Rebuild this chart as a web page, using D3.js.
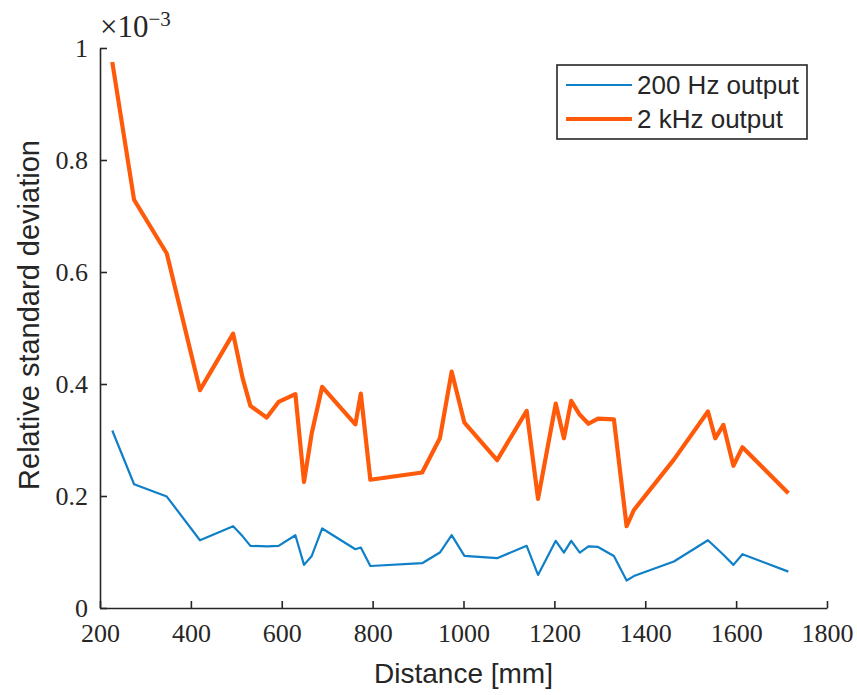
<!DOCTYPE html>
<html>
<head>
<meta charset="utf-8">
<script src="https://cdn.jsdelivr.net/npm/d3@7"></script>
<style>
  html, body { margin: 0; padding: 0; background: #fff; }
  svg { display: block; }
</style>
</head>
<body>
<svg id="chart" width="857" height="695"></svg>
<script>
// Distance from the source in mm
const distance = [227, 275, 347, 420, 493, 514, 531, 567, 593, 630, 649, 666, 689, 762, 774, 795, 909, 948, 974, 1002, 1074, 1139, 1164, 1203, 1221, 1237, 1256, 1275, 1296, 1331, 1359, 1375, 1463, 1538, 1554, 1572, 1594, 1614, 1715];

// Relative standard deviation, in units of 1e-3
const rsd200Hz = [0.317, 0.221, 0.199, 0.121, 0.146, 0.128, 0.111, 0.110, 0.111, 0.130, 0.077, 0.093, 0.142, 0.105, 0.108, 0.075, 0.080, 0.099, 0.130, 0.093, 0.089, 0.111, 0.059, 0.120, 0.099, 0.120, 0.099, 0.110, 0.109, 0.093, 0.049, 0.057, 0.083, 0.121, 0.109, 0.095, 0.077, 0.096, 0.065];
const rsd2kHz  = [0.975, 0.729, 0.633, 0.389, 0.490, 0.410, 0.361, 0.340, 0.368, 0.382, 0.225, 0.312, 0.395, 0.328, 0.383, 0.229, 0.242, 0.303, 0.422, 0.331, 0.264, 0.352, 0.195, 0.365, 0.303, 0.370, 0.345, 0.329, 0.338, 0.337, 0.146, 0.175, 0.265, 0.351, 0.303, 0.327, 0.254, 0.287, 0.205];

const seriesNames = ["200 Hz output", "2 kHz output"];
const xTicks = [200, 400, 600, 800, 1000, 1200, 1400, 1600, 1800];
const yTicks = [0, 0.2, 0.4, 0.6, 0.8, 1];

const svg = d3.select("#chart");
const axisColor = "#262626";
const blue = "#0f7fc8";
const orange = "#ff5a0a";
const serif = "'Liberation Serif', 'DejaVu Serif', serif";
const sans = "'Liberation Sans', Arial, sans-serif";

const x = d3.scaleLinear().domain([200, 1800]).range([100, 827]);
const y = d3.scaleLinear().domain([0, 1]).range([608, 48]);

// Axes: ticks point into the plot area
const xAxis = svg.append("g")
  .attr("transform", `translate(0,${y(0)})`)
  .call(d3.axisBottom(x).tickValues(xTicks).tickSizeInner(-7).tickSizeOuter(0).tickPadding(16).tickFormat(d3.format("d")));
const yAxis = svg.append("g")
  .attr("transform", `translate(${x(200)},0)`)
  .call(d3.axisLeft(y).tickValues(yTicks).tickSizeInner(-7).tickSizeOuter(0).tickPadding(12).tickFormat(d => d === 0 || d === 1 ? String(d) : d.toFixed(1)));

[xAxis, yAxis].forEach(g => {
  g.select(".domain").attr("stroke", axisColor).attr("stroke-width", 1.6);
  g.selectAll(".tick line").attr("stroke", axisColor).attr("stroke-width", 1.6);
  g.selectAll(".tick text").attr("fill", axisColor).style("font-family", serif).style("font-size", "26px");
});
xAxis.selectAll(".tick text").attr("dy", "0.71em");

// Exponent marker above the y axis
const expo = svg.append("text")
  .attr("x", 100).attr("y", 37)
  .attr("fill", axisColor)
  .style("font-family", serif).style("font-size", "31px");
expo.append("tspan").text("×10");
expo.append("tspan").attr("dy", -11).style("font-size", "21px").text("−3");

// Axis titles
svg.append("text")
  .attr("x", (x(200) + x(1800)) / 2).attr("y", 683)
  .attr("text-anchor", "middle").attr("fill", axisColor)
  .style("font-family", sans).style("font-size", "28px")
  .text("Distance [mm]");
svg.append("text")
  .attr("transform", `translate(39,315) rotate(-90)`)
  .attr("text-anchor", "middle").attr("fill", axisColor)
  .style("font-family", sans).style("font-size", "29px")
  .text("Relative standard deviation");

// Lines
const line = d3.line().x(d => x(d[0])).y(d => y(d[1]));
const data200 = distance.map((d, i) => [d, rsd200Hz[i]]);
const data2k = distance.map((d, i) => [d, rsd2kHz[i]]);

svg.append("path").datum(data200)
  .attr("d", line).attr("fill", "none")
  .attr("stroke", blue).attr("stroke-width", 2.2).attr("stroke-linejoin", "round");
svg.append("path").datum(data2k)
  .attr("d", line).attr("fill", "none")
  .attr("stroke", orange).attr("stroke-width", 4.2).attr("stroke-linejoin", "round");

// Legend
const legend = svg.append("g");
legend.append("rect")
  .attr("x", 557).attr("y", 65).attr("width", 250).attr("height", 74)
  .attr("fill", "#fff").attr("stroke", axisColor).attr("stroke-width", 1.6);
const legendRows = [
  { name: seriesNames[0], color: blue, width: 2.2, cy: 85 },
  { name: seriesNames[1], color: orange, width: 4.2, cy: 119 }
];
legendRows.forEach(r => {
  legend.append("line")
    .attr("x1", 566).attr("x2", 632).attr("y1", r.cy).attr("y2", r.cy)
    .attr("stroke", r.color).attr("stroke-width", r.width);
  legend.append("text")
    .attr("x", 637).attr("y", r.cy).attr("dy", "0.35em")
    .attr("fill", axisColor)
    .style("font-family", sans).style("font-size", "26px")
    .text(r.name);
});
</script>
</body>
</html>
